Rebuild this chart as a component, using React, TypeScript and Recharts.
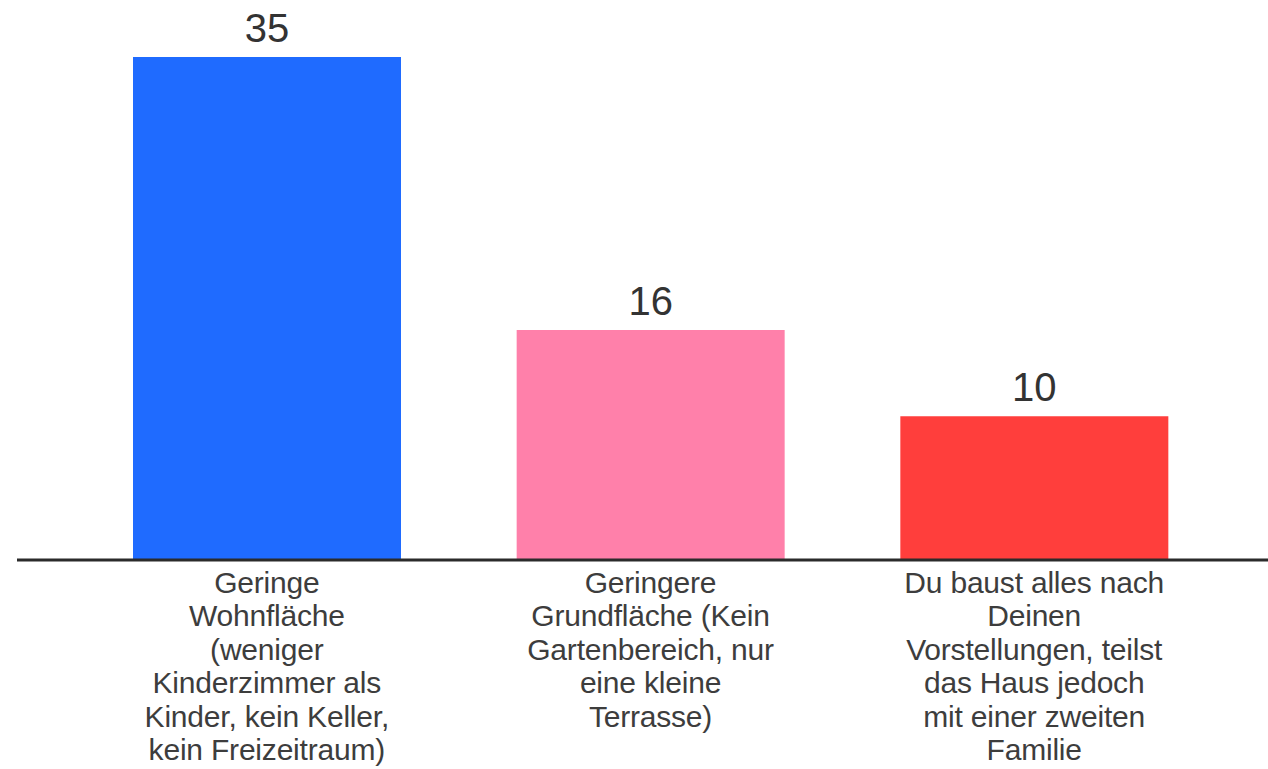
import React from 'react'
import { BarChart, Bar, XAxis, YAxis, Cell, LabelList } from 'recharts'

const categories = ['Geringe Wohnfläche', 'Geringere Grundfläche', 'Zweite Familie']
const values = [35, 16, 10]
const barColors = ['#1f6bff', '#ff80aa', '#ff3e3c']
const tickLines = [
  ['Geringe', 'Wohnfläche', '(weniger', 'Kinderzimmer als', 'Kinder, kein Keller,', 'kein Freizeitraum)'],
  ['Geringere', 'Grundfläche (Kein', 'Gartenbereich, nur', 'eine kleine', 'Terrasse)'],
  ['Du baust alles nach', 'Deinen', 'Vorstellungen, teilst', 'das Haus jedoch', 'mit einer zweiten', 'Familie'],
]

const FONT = '"Liberation Sans", Arial, sans-serif'

const data = categories.map((name, i) => ({ name, value: values[i], idx: i }))

// multi-line category label, one tspan per line
function CategoryTick({ x, y, payload }: any) {
  const lines = tickLines[payload.index] ?? []
  return (
    <text x={x} y={y} textAnchor="middle" fill="#3d3d3d" fontSize={30} fontFamily={FONT} letterSpacing={-0.2}>
      {lines.map((l, i) => (
        <tspan key={i} x={x} dy={i === 0 ? 33 : 33.4}>{l}</tspan>
      ))}
    </text>
  )
}

export default function App() {
  return (
    <div style={{ position: 'absolute', left: 0, top: 0, background: '#fff' }}>
      <BarChart
        width={1268}
        height={769}
        data={data}
        margin={{ top: 57, right: 0, bottom: 0, left: 17 }}
        barCategoryGap={0}
      >
        <XAxis
          dataKey="name"
          axisLine={{ stroke: '#2b2b2b', strokeWidth: 3 }}
          tickLine={false}
          tickSize={0}
          tickMargin={0}
          height={209}
          interval={0}
          padding={{ left: 58, right: 42 }}
          tick={<CategoryTick />}
        />
        <YAxis hide domain={[0, 35]} />
        <Bar dataKey="value" barSize={268} isAnimationActive={false}>
          {data.map((d, i) => (
            <Cell key={d.name} fill={barColors[i]} />
          ))}
          <LabelList
            dataKey="value"
            position="top"
            offset={15}
            fill="#333"
            fontSize={40}
            fontFamily={FONT}
          />
        </Bar>
      </BarChart>
    </div>
  )
}
